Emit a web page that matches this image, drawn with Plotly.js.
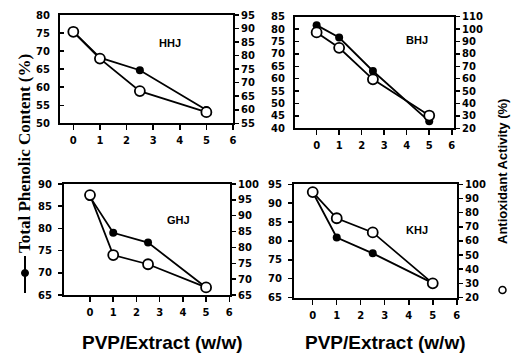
<!DOCTYPE html>
<html>
<head>
<meta charset="utf-8">
<script src="https://cdn.plot.ly/plotly-3.0.1.min.js"></script>
<style>html,body{margin:0;padding:0;background:#fff;}#chart{width:511px;height:355px;}</style>
</head>
<body>
<div id="chart"></div>
<script>
// ---- data ----
var ratio = [0, 1, 2.5, 5];              // PVP/Extract (w/w)
var xTicks = [0, 1, 2, 3, 4, 5, 6];
var xTickText = ["0", "1", "2", "3", "4", "5", "6"];
var panelNames = ["HHJ", "BHJ", "GHJ", "KHJ"];

// Total Phenolic Content (%) - filled circles, left axis
var tpcHHJ = [75.4, 68.2, 64.7, 53.7];
var tpcBHJ = [81.6, 76.6, 63.1, 42.8];
var tpcGHJ = [87.1, 79.0, 76.8, 66.7];
var tpcKHJ = [92.9, 80.9, 76.7, 68.8];

// Antioxidant Activity (%) - open circles, right axis
var aaHHJ = [88.8, 78.9, 66.9, 59.1];
var aaBHJ = [97.3, 84.9, 59.5, 30.3];
var aaGHJ = [96.5, 77.6, 74.7, 67.4];
var aaKHJ = [94.5, 76.0, 66.0, 30.0];

// axis ranges and tick steps
var leftRanges  = [[50, 80], [40, 85], [65, 90], [65, 95]];
var leftSteps   = [5, 5, 5, 5];
var rightRanges = [[55, 95], [20, 110], [65, 100], [20, 100]];
var rightSteps  = [5, 10, 5, 10];

var tpcAll = [tpcHHJ, tpcBHJ, tpcGHJ, tpcKHJ];
var aaAll  = [aaHHJ, aaBHJ, aaGHJ, aaKHJ];

// ---- layout geometry (pixels in a 511x355 page) ----
var W = 511, H = 355;
var boxes = [
  {x0: 60,  x1: 233, y0: 15,   y1: 123.3, xr: [-0.5, 6.0],   lt: 'inside'},
  {x0: 295, x1: 454, y0: 16.7, y1: 128.3, xr: [-0.96, 6.1],  lt: 'inside'},
  {x0: 64,  x1: 230, y0: 184,  y1: 295,   xr: [-1.12, 6.03], lt: 'outside'},
  {x0: 294, x1: 457, y0: 184.3,y1: 297.5, xr: [-0.78, 6.01], lt: 'outside'}
];

var tickFont = {family: 'DejaVu Sans', size: 10, color: '#000', weight: 'bold'};
var traces = [];
var layout = {
  width: W, height: H,
  margin: {l: 0, r: 0, t: 0, b: 0},
  paper_bgcolor: '#fff', plot_bgcolor: 'rgba(0,0,0,0)',
  showlegend: false,
  annotations: [], shapes: []
};

for (var i = 0; i < 4; i++) {
  var b = boxes[i];
  var xn = i === 0 ? '' : String(i + 1);
  var yl = String(2 * i + 1), yr = String(2 * i + 2);
  var ylName = yl === '1' ? '' : yl;
  var xd = [b.x0 / W, b.x1 / W];
  var yd = [1 - b.y1 / H, 1 - b.y0 / H];

  layout['xaxis' + xn] = {
    domain: xd, range: b.xr, anchor: 'y' + ylName,
    tickmode: 'array', tickvals: xTicks, ticktext: xTickText,
    ticks: 'outside', ticklen: 5, tickwidth: 1.5, tickcolor: '#000',
    showline: true, linewidth: 2, linecolor: '#000', mirror: true,
    showgrid: false, zeroline: false, tickfont: tickFont,
    ticklabelstandoff: 2
  };
  layout['yaxis' + ylName] = {
    domain: yd, range: leftRanges[i], dtick: leftSteps[i], tick0: 0,
    anchor: 'x' + xn,
    ticks: b.lt, ticklen: 4, tickwidth: 1.5, tickcolor: '#000',
    showline: true, linewidth: 2, linecolor: '#000',
    showgrid: false, zeroline: false, tickfont: tickFont,
    ticklabelstandoff: (i < 2 ? 6 : 4)
  };
  layout['yaxis' + yr] = {
    overlaying: 'y' + ylName, side: 'right', anchor: 'x' + xn,
    range: rightRanges[i], dtick: rightSteps[i], tick0: 0,
    ticks: 'outside', ticklen: 4, tickwidth: 1.5, tickcolor: '#000',
    showline: true, linewidth: 2, linecolor: '#000',
    showgrid: false, zeroline: false, tickfont: tickFont
  };

  traces.push({
    x: ratio, y: tpcAll[i], xaxis: 'x' + xn, yaxis: 'y' + ylName,
    mode: 'lines+markers', name: 'Total Phenolic Content (%)',
    line: {color: '#000', width: 1.8},
    marker: {symbol: 'circle', size: 8, color: '#000'},
    cliponaxis: false
  });
  traces.push({
    x: ratio, y: aaAll[i], xaxis: 'x' + xn, yaxis: 'y' + yr,
    mode: 'lines+markers', name: 'Antioxidant Activity (%)',
    line: {color: '#000', width: 1.8},
    marker: {symbol: 'circle', size: 10, color: '#fff', line: {color: '#000', width: 1.8}},
    cliponaxis: false
  });
}

// panel labels
var labelPos = [[170, 43], [417, 40], [178, 220], [417, 230]];
for (var k = 0; k < 4; k++) {
  layout.annotations.push({
    xref: 'paper', yref: 'paper', x: labelPos[k][0] / W, y: 1 - labelPos[k][1] / H,
    text: panelNames[k], showarrow: false, xanchor: 'center', yanchor: 'middle',
    font: {family: 'Liberation Sans', size: 11, color: '#000', weight: 'bold'}
  });
}
// x-axis titles under the lower panels
[[162, 342], [385, 342]].forEach(function (p) {
  layout.annotations.push({
    xref: 'paper', yref: 'paper', x: p[0] / W, y: 1 - p[1] / H,
    text: 'PVP/Extract (w/w)', showarrow: false, xanchor: 'center', yanchor: 'middle',
    font: {family: 'Liberation Sans', size: 19, color: '#000', weight: 'bold'}
  });
});
// left axis title
layout.annotations.push({
  xref: 'paper', yref: 'paper', x: 24 / W, y: 1 - 154 / H,
  text: 'Total Phenolic Content (%)', showarrow: false, textangle: -90,
  xanchor: 'center', yanchor: 'middle',
  font: {family: 'Liberation Serif', size: 17, color: '#000', weight: 'bold'}
});
// right axis title
layout.annotations.push({
  xref: 'paper', yref: 'paper', x: 502 / W, y: 1 - 172 / H,
  text: 'Antioxidant Activity (%)', showarrow: false, textangle: -90,
  xanchor: 'center', yanchor: 'middle',
  font: {family: 'Liberation Sans', size: 13, color: '#000', weight: 'bold'}
});
// legend symbols beside the titles
layout.shapes.push({type: 'line', xref: 'paper', yref: 'paper',
  x0: 25 / W, x1: 25 / W, y0: 1 - 256 / H, y1: 1 - 293 / H, line: {color: '#000', width: 2}});
layout.shapes.push({type: 'circle', xref: 'paper', yref: 'paper',
  x0: 21.5 / W, x1: 28.5 / W, y0: 1 - 269.5 / H, y1: 1 - 276.5 / H, fillcolor: '#000', line: {color: '#000', width: 1}});
layout.shapes.push({type: 'circle', xref: 'paper', yref: 'paper',
  x0: 499 / W, x1: 506 / W, y0: 1 - 286.5 / H, y1: 1 - 293.5 / H, fillcolor: '#fff', line: {color: '#000', width: 1.5}});

Plotly.newPlot('chart', traces, layout, {staticPlot: true, displayModeBar: false});
</script>
</body>
</html>
